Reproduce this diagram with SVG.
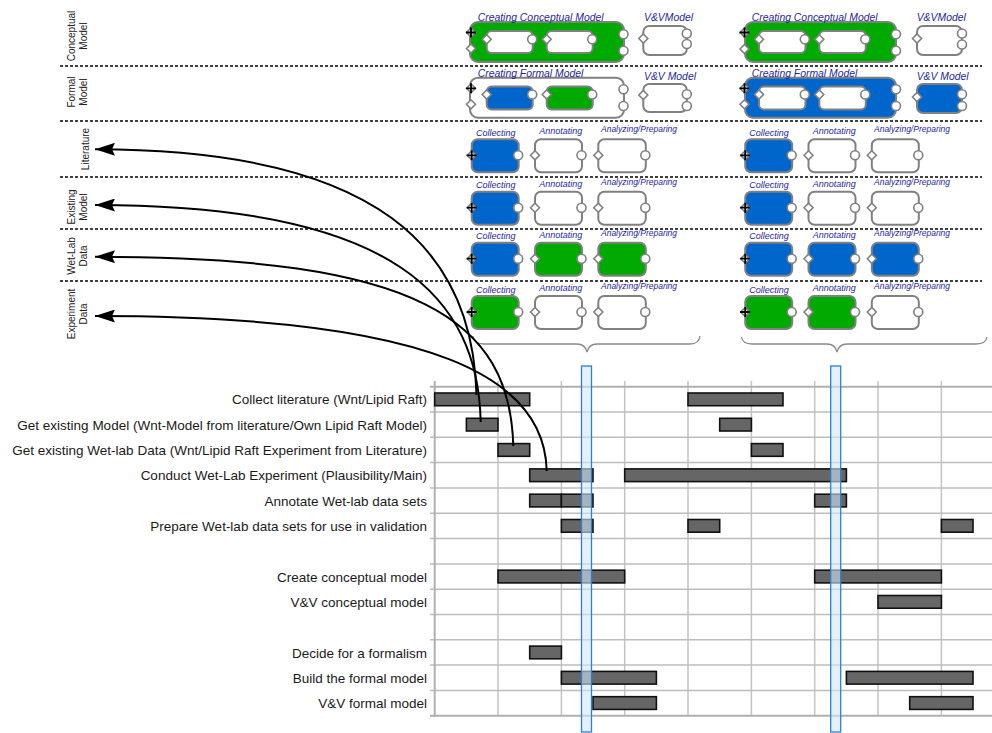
<svg xmlns="http://www.w3.org/2000/svg" xmlns:xlink="http://www.w3.org/1999/xlink" width="992" height="733" viewBox="0 0 992 733">
<style>
text{font-family:"Liberation Sans",Arial,sans-serif}
.lane{fill:#222;font-size:10px;text-anchor:middle}
.ttl{fill:#1f1f9f;font-size:10.4px;font-style:italic}
.sl{fill:#1f1f9f;font-size:9px;font-style:italic}
.sl2{fill:#1f1f9f;font-size:8.5px;font-style:italic}
.gl{fill:#1a1a1a;font-size:13.5px;text-anchor:end}
.box{stroke:#808080;stroke-width:2}
.w{fill:#fff}.b{fill:#0066cc}.g{fill:#00aa00}
.port{fill:#fff;stroke:#808080;stroke-width:1.6}
.dash{stroke:#000;stroke-width:1.3;stroke-dasharray:3 2;fill:none}
.hg{stroke:#bdbdbd;stroke-width:1.5}
.vg{stroke:#c4c4c4;stroke-width:1.5}
.bar{fill:#666;stroke:#111;stroke-width:1.6}
.hl{fill:#d2e7f8;fill-opacity:0.6;stroke:#2a80d8;stroke-width:1.3}
.brace{fill:none;stroke:#8a8a8a;stroke-width:1.3}
.arr{fill:none;stroke:#000;stroke-width:2;marker-end:url(#ah)}
</style>
<defs>
<marker id="ah" viewBox="0 0 20 13" refX="20" refY="6.5" markerWidth="20" markerHeight="13" markerUnits="userSpaceOnUse" orient="auto"><path d="M0,0 L20,6.5 L0,13 L3,6.5 Z" fill="#000"/></marker>
<path id="dm" d="M-4.5,0 L0,-4.5 L4.5,0 L0,4.5 Z" class="port"/>
<circle id="cp" r="4.5" class="port"/>
<g id="plus"><use xlink:href="#dm"/><path d="M-5,0H5M0,-5V5" stroke="#000" stroke-width="1.8"/></g>
</defs>
<rect width="992" height="733" fill="#fff"/>

<!-- lane separators -->
<g id="lanes">
<path class="dash" d="M60,66H982M60,121H982M60,177H982M60,229H982M60,281H982"/>
<text class="lane" transform="translate(74.5,36) rotate(-90)">Conceptual</text>
<text class="lane" transform="translate(87,36) rotate(-90)">Model</text>
<text class="lane" transform="translate(75,92) rotate(-90)">Formal</text>
<text class="lane" transform="translate(87,92) rotate(-90)">Model</text>
<text class="lane" transform="translate(89,149) rotate(-90)">Literature</text>
<text class="lane" transform="translate(74.5,207) rotate(-90)">Existing</text>
<text class="lane" transform="translate(87,207) rotate(-90)">Model</text>
<text class="lane" transform="translate(75,256) rotate(-90)">Wet-Lab</text>
<text class="lane" transform="translate(87,256) rotate(-90)">Data</text>
<text class="lane" transform="translate(74.5,314) rotate(-90)">Experiment</text>
<text class="lane" transform="translate(87,314) rotate(-90)">Data</text>
</g>

<!-- top-left instance -->
<g id="cc1">
<rect class="box g" x="470" y="22" width="154" height="40" rx="8"/>
<use xlink:href="#plus" x="471" y="32.5"/><use xlink:href="#dm" x="471" y="48.5"/>
<use xlink:href="#cp" x="623.5" y="34.3"/><use xlink:href="#cp" x="623.5" y="50.7"/>
<text class="ttl" x="477.7" y="20.5">Creating Conceptual Model</text>
</g>
<g id="cc1a"><rect class="box w" x="486.7" y="31" width="46" height="22" rx="5"/><use xlink:href="#dm" x="486.7" y="39.3"/><use xlink:href="#cp" x="532.2" y="39.3"/></g>
<g id="cc1b"><rect class="box w" x="546.7" y="31" width="46" height="22" rx="5"/><use xlink:href="#dm" x="546.7" y="39.3"/><use xlink:href="#cp" x="592.2" y="39.3"/></g>
<g id="vvc1">
<rect class="box w" x="643.3" y="26" width="43.5" height="29" rx="6"/>
<use xlink:href="#dm" x="643.3" y="38.5"/><use xlink:href="#cp" x="686.8" y="33.5"/><use xlink:href="#cp" x="686.8" y="44"/>
<text class="ttl" x="644" y="21">V&amp;VModel</text>
</g>
<g id="cf1">
<rect class="box w" x="470" y="77.7" width="154" height="40" rx="8"/>
<use xlink:href="#plus" x="471" y="88.3"/><use xlink:href="#dm" x="471" y="104.3"/>
<use xlink:href="#cp" x="623.5" y="89.3"/><use xlink:href="#cp" x="623.5" y="106"/>
<text class="ttl" x="477.7" y="77">Creating Formal Model</text>
</g>
<g id="cf1a"><rect class="box b" x="486.7" y="86.5" width="46" height="23" rx="5"/><use xlink:href="#dm" x="486.7" y="94.5"/><use xlink:href="#cp" x="532.2" y="94.5"/></g>
<g id="cf1b"><rect class="box g" x="546.7" y="86.5" width="46" height="23" rx="5"/><use xlink:href="#dm" x="546.7" y="94.5"/><use xlink:href="#cp" x="592.2" y="94.5"/></g>
<g id="vvf1">
<rect class="box w" x="643.3" y="84" width="43.5" height="28" rx="6"/>
<use xlink:href="#dm" x="643.3" y="95"/><use xlink:href="#cp" x="686.8" y="94.3"/><use xlink:href="#cp" x="686.8" y="106"/>
<text class="ttl" x="644" y="79.5">V&amp;V Model</text>
</g>

<!-- top-right instance -->
<g id="cc2">
<rect class="box g" x="745" y="22" width="151" height="40" rx="8"/>
<use xlink:href="#plus" x="744.5" y="32.5"/><use xlink:href="#dm" x="744.5" y="49"/>
<use xlink:href="#cp" x="896" y="34.3"/><use xlink:href="#cp" x="896" y="50.7"/>
<text class="ttl" x="751.7" y="20.5">Creating Conceptual Model</text>
</g>
<g id="cc2a"><rect class="box w" x="759" y="31" width="46.5" height="22" rx="5"/><use xlink:href="#dm" x="759" y="39.3"/><use xlink:href="#cp" x="804.8" y="39.3"/></g>
<g id="cc2b"><rect class="box w" x="819.3" y="31" width="46.5" height="22" rx="5"/><use xlink:href="#dm" x="819.3" y="39.3"/><use xlink:href="#cp" x="865.3" y="39.3"/></g>
<g id="vvc2">
<rect class="box w" x="917" y="26" width="45" height="29" rx="6"/>
<use xlink:href="#dm" x="917" y="38.5"/><use xlink:href="#cp" x="962" y="33.5"/><use xlink:href="#cp" x="962" y="44.5"/>
<text class="ttl" x="916.7" y="21">V&amp;VModel</text>
</g>
<g id="cf2">
<rect class="box b" x="745" y="77.7" width="151" height="40" rx="8"/>
<use xlink:href="#plus" x="744.5" y="88.3"/><use xlink:href="#dm" x="744.5" y="104.3"/>
<use xlink:href="#cp" x="896" y="89.3"/><use xlink:href="#cp" x="896" y="106"/>
<text class="ttl" x="751.7" y="77">Creating Formal Model</text>
</g>
<g id="cf2a"><rect class="box w" x="759" y="86.5" width="46.5" height="23" rx="5"/><use xlink:href="#dm" x="759" y="94.5"/><use xlink:href="#cp" x="804.8" y="94.5"/></g>
<g id="cf2b"><rect class="box w" x="819.3" y="86.5" width="46.5" height="23" rx="5"/><use xlink:href="#dm" x="819.3" y="94.5"/><use xlink:href="#cp" x="865.3" y="94.5"/></g>
<g id="vvf2">
<rect class="box b" x="917" y="84" width="45" height="29" rx="6"/>
<use xlink:href="#dm" x="917" y="97"/><use xlink:href="#cp" x="962" y="94.3"/><use xlink:href="#cp" x="962" y="106"/>
<text class="ttl" x="916.7" y="79.5">V&amp;V Model</text>
</g>

<!-- lane boxes left -->
<g id="lit1c"><rect class="box b" x="471.7" y="139.3" width="47" height="33" rx="6"/><use xlink:href="#plus" x="471.7" y="155.3"/><use xlink:href="#cp" x="518.2" y="155.3"/><text class="sl" x="476" y="135.5">Collecting</text></g>
<g id="lit1a"><rect class="box w" x="535" y="139.3" width="47" height="33" rx="6"/><use xlink:href="#dm" x="535" y="155.3"/><use xlink:href="#cp" x="581.5" y="155.3"/><text class="sl" x="539.3" y="134.3">Annotating</text></g>
<g id="lit1p"><rect class="box w" x="598.3" y="139.3" width="47.5" height="33" rx="6"/><use xlink:href="#dm" x="598.3" y="155.3"/><use xlink:href="#cp" x="645.3" y="155.3"/><text class="sl2" x="601" y="132.3">Analyzing/Preparing</text></g>

<g id="ex1c"><rect class="box b" x="471.7" y="191.7" width="47" height="33" rx="6"/><use xlink:href="#plus" x="471.7" y="207.7"/><use xlink:href="#cp" x="518.2" y="207.7"/><text class="sl" x="476" y="187.7">Collecting</text></g>
<g id="ex1a"><rect class="box w" x="535" y="191.7" width="47" height="33" rx="6"/><use xlink:href="#dm" x="535" y="207.7"/><use xlink:href="#cp" x="581.5" y="207.7"/><text class="sl" x="539.3" y="186.7">Annotating</text></g>
<g id="ex1p"><rect class="box w" x="598.3" y="191.7" width="47.5" height="33" rx="6"/><use xlink:href="#dm" x="598.3" y="207.7"/><use xlink:href="#cp" x="645.3" y="207.7"/><text class="sl2" x="601" y="184.7">Analyzing/Preparing</text></g>

<g id="wl1c"><rect class="box b" x="471.7" y="242.7" width="47" height="33" rx="6"/><use xlink:href="#plus" x="471.7" y="258.7"/><use xlink:href="#cp" x="518.2" y="258.7"/><text class="sl" x="476" y="238.5">Collecting</text></g>
<g id="wl1a"><rect class="box g" x="535" y="242.7" width="47" height="33" rx="6"/><use xlink:href="#dm" x="535" y="258.7"/><use xlink:href="#cp" x="581.5" y="258.7"/><text class="sl" x="539.3" y="237.7">Annotating</text></g>
<g id="wl1p"><rect class="box g" x="598.3" y="242.7" width="47.5" height="33" rx="6"/><use xlink:href="#dm" x="598.3" y="258.7"/><use xlink:href="#cp" x="645.3" y="258.7"/><text class="sl2" x="601" y="235.7">Analyzing/Preparing</text></g>

<g id="ed1c"><rect class="box g" x="471.7" y="296" width="47" height="33" rx="6"/><use xlink:href="#plus" x="471.7" y="312"/><use xlink:href="#cp" x="518.2" y="312"/><text class="sl" x="476" y="292.5">Collecting</text></g>
<g id="ed1a"><rect class="box w" x="535" y="296" width="47" height="33" rx="6"/><use xlink:href="#dm" x="535" y="312"/><use xlink:href="#cp" x="581.5" y="312"/><text class="sl" x="539.3" y="291.3">Annotating</text></g>
<g id="ed1p"><rect class="box w" x="598.3" y="296" width="47.5" height="33" rx="6"/><use xlink:href="#dm" x="598.3" y="312"/><use xlink:href="#cp" x="645.3" y="312"/><text class="sl2" x="601" y="289.3">Analyzing/Preparing</text></g>

<!-- lane boxes right -->
<g id="lit2c"><rect class="box b" x="745.2" y="139.3" width="47" height="33" rx="6"/><use xlink:href="#plus" x="745.2" y="155.3"/><use xlink:href="#cp" x="791.7" y="155.3"/><text class="sl" x="749.3" y="135.5">Collecting</text></g>
<g id="lit2a"><rect class="box w" x="808.5" y="139.3" width="47" height="33" rx="6"/><use xlink:href="#dm" x="808.5" y="155.3"/><use xlink:href="#cp" x="855" y="155.3"/><text class="sl" x="812.8" y="134.3">Annotating</text></g>
<g id="lit2p"><rect class="box w" x="871.8" y="139.3" width="47" height="33" rx="6"/><use xlink:href="#dm" x="871.8" y="155.3"/><use xlink:href="#cp" x="918.3" y="155.3"/><text class="sl2" x="874" y="132.3">Analyzing/Preparing</text></g>

<g id="ex2c"><rect class="box b" x="745.2" y="191.7" width="47" height="33" rx="6"/><use xlink:href="#plus" x="745.2" y="207.7"/><use xlink:href="#cp" x="791.7" y="207.7"/><text class="sl" x="749.3" y="187.7">Collecting</text></g>
<g id="ex2a"><rect class="box w" x="808.5" y="191.7" width="47" height="33" rx="6"/><use xlink:href="#dm" x="808.5" y="207.7"/><use xlink:href="#cp" x="855" y="207.7"/><text class="sl" x="812.8" y="186.7">Annotating</text></g>
<g id="ex2p"><rect class="box w" x="871.8" y="191.7" width="47" height="33" rx="6"/><use xlink:href="#dm" x="871.8" y="207.7"/><use xlink:href="#cp" x="918.3" y="207.7"/><text class="sl2" x="874" y="184.7">Analyzing/Preparing</text></g>

<g id="wl2c"><rect class="box b" x="745.2" y="242.7" width="47" height="33" rx="6"/><use xlink:href="#plus" x="745.2" y="258.7"/><use xlink:href="#cp" x="791.7" y="258.7"/><text class="sl" x="749.3" y="238.5">Collecting</text></g>
<g id="wl2a"><rect class="box b" x="808.5" y="242.7" width="47" height="33" rx="6"/><use xlink:href="#dm" x="808.5" y="258.7"/><use xlink:href="#cp" x="855" y="258.7"/><text class="sl" x="812.8" y="237.7">Annotating</text></g>
<g id="wl2p"><rect class="box b" x="871.8" y="242.7" width="47" height="33" rx="6"/><use xlink:href="#dm" x="871.8" y="258.7"/><use xlink:href="#cp" x="918.3" y="258.7"/><text class="sl2" x="874" y="235.7">Analyzing/Preparing</text></g>

<g id="ed2c"><rect class="box g" x="745.2" y="296" width="47" height="33" rx="6"/><use xlink:href="#plus" x="745.2" y="312"/><use xlink:href="#cp" x="791.7" y="312"/><text class="sl" x="749.3" y="292.5">Collecting</text></g>
<g id="ed2a"><rect class="box g" x="808.5" y="296" width="47" height="33" rx="6"/><use xlink:href="#dm" x="808.5" y="312"/><use xlink:href="#cp" x="855" y="312"/><text class="sl" x="812.8" y="291.3">Annotating</text></g>
<g id="ed2p"><rect class="box w" x="871.8" y="296" width="47" height="33" rx="6"/><use xlink:href="#dm" x="871.8" y="312"/><use xlink:href="#cp" x="918.3" y="312"/><text class="sl2" x="874" y="289.3">Analyzing/Preparing</text></g>

<!-- braces -->
<g id="braces">
<path class="brace" d="M473,336 Q474,344 484,344 L577,344 Q585,344 587,352 Q589,344 597,344 L690,344 Q699,344 700,336"/>
<path class="brace" d="M741.5,337 Q742.5,344 752,344 L827,344 Q835,344 837,352 Q839,344 847,344 L976,344 Q986,344 987,337"/>
</g>

<!-- gantt grid -->
<g id="grid">
<path class="vg" d="M498,381V716M561.4,381V716M624.7,381V716M688,381V716M751.4,381V716M814.7,381V716M878,381V716M941.4,381V716"/>
<path class="hg" d="M430,412H992M430,437.3H992M430,462.6H992M430,487.9H992M430,513.2H992M430,538.6H992M430,563.9H992M430,589.2H992M430,614.5H992M430,639.8H992M430,665.1H992M430,690.4H992"/>
<path stroke="#b0b0b0" stroke-width="2" d="M430,386.7H992M430,715.7H992M434.7,381V717"/>
</g>

<!-- gantt labels -->
<g id="tasks">
<text class="gl" x="427" y="404.4">Collect literature (Wnt/Lipid Raft)</text>
<text class="gl" x="427" y="429.7">Get existing Model (Wnt-Model from literature/Own Lipid Raft Model)</text>
<text class="gl" x="427" y="455">Get existing Wet-lab Data (Wnt/Lipid Raft Experiment from Literature)</text>
<text class="gl" x="427" y="480.3">Conduct Wet-Lab Experiment (Plausibility/Main)</text>
<text class="gl" x="427" y="505.6">Annotate Wet-lab data sets</text>
<text class="gl" x="427" y="530.9">Prepare Wet-lab data sets for use in validation</text>
<text class="gl" x="427" y="581.6">Create conceptual model</text>
<text class="gl" x="427" y="606.9">V&amp;V conceptual model</text>
<text class="gl" x="427" y="657.5">Decide for a formalism</text>
<text class="gl" x="427" y="682.8">Build the formal model</text>
<text class="gl" x="427" y="708.1">V&amp;V formal model</text>
</g>

<!-- gantt bars -->
<g id="bars">
<rect class="bar" x="434.7" y="393" width="95" height="12.7"/>
<rect class="bar" x="688" y="393" width="95" height="12.7"/>
<rect class="bar" x="466.4" y="418.3" width="31.6" height="12.7"/>
<rect class="bar" x="719.7" y="418.3" width="31.7" height="12.7"/>
<rect class="bar" x="498" y="443.6" width="31.7" height="12.7"/>
<rect class="bar" x="751.4" y="443.6" width="31.6" height="12.7"/>
<rect class="bar" x="529.7" y="468.9" width="63.3" height="12.7"/>
<rect class="bar" x="624.7" y="468.9" width="221.7" height="12.7"/>
<rect class="bar" x="529.7" y="494.2" width="31.7" height="12.7"/>
<rect class="bar" x="561.4" y="494.2" width="31.6" height="12.7"/>
<rect class="bar" x="814.7" y="494.2" width="31.7" height="12.7"/>
<rect class="bar" x="561.4" y="519.5" width="31.6" height="12.7"/>
<rect class="bar" x="688" y="519.5" width="31.7" height="12.7"/>
<rect class="bar" x="941.4" y="519.5" width="31.6" height="12.7"/>
<rect class="bar" x="498" y="570.2" width="126.7" height="12.7"/>
<rect class="bar" x="814.7" y="570.2" width="126.7" height="12.7"/>
<rect class="bar" x="878" y="595.5" width="63.4" height="12.7"/>
<rect class="bar" x="529.7" y="646.1" width="31.7" height="12.7"/>
<rect class="bar" x="561.4" y="671.4" width="95" height="12.7"/>
<rect class="bar" x="846.4" y="671.4" width="126.6" height="12.7"/>
<rect class="bar" x="593" y="696.7" width="63.4" height="12.7"/>
<rect class="bar" x="909.7" y="696.7" width="63.3" height="12.7"/>
</g>

<!-- highlights -->
<g id="highlights">
<rect class="hl" x="581.5" y="366" width="10" height="366"/>
<rect class="hl" x="830.7" y="366" width="10" height="366"/>
</g>

<!-- connectors -->
<g id="connectors">
<path class="arr" d="M476.5,395 C473,250 380,149.3 95,149.3"/>
<path class="arr" d="M480.7,422 C478,300 400,205 95,205"/>
<path class="arr" d="M513.3,446 C510,320 420,256.7 95,256.7"/>
<path class="arr" d="M546.7,471 C545,380 440,316 95,316"/>
</g>
</svg>
